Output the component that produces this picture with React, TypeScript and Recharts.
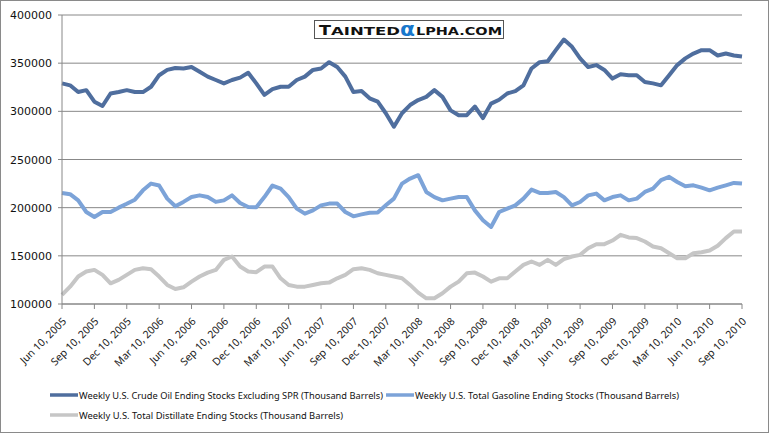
import React from 'react';
import { LineChart, Line, XAxis, YAxis, CartesianGrid, Legend } from 'recharts';

// quarterly tick labels (one every 13 weeks)
const QUARTER_LABELS = [
  'Jun 10, 2005', 'Sep 10, 2005', 'Dec 10, 2005', 'Mar 10, 2006', 'Jun 10, 2006', 'Sep 10, 2006',
  'Dec 10, 2006', 'Mar 10, 2007', 'Jun 10, 2007', 'Sep 10, 2007', 'Dec 10, 2007', 'Mar 10, 2008',
  'Jun 10, 2008', 'Sep 10, 2008', 'Dec 10, 2008', 'Mar 10, 2009', 'Jun 10, 2009', 'Sep 10, 2009',
  'Dec 10, 2009', 'Mar 10, 2010', 'Jun 10, 2010', 'Sep 10, 2010',
];
const STEPS_PER_QUARTER = 4;

// readings every quarter of a quarter (~3 weeks), thousand barrels
const CRUDE = [
  329000, 327000, 320000, 322000,
  310000, 305500, 318500, 320000,
  322000, 320000, 320000, 325500,
  337500, 343000, 345000, 344500,
  346000, 341000, 336000, 332500,
  329000, 332500, 335000, 340000,
  329000, 317000, 323000, 325500,
  325500, 332500, 336000, 343000,
  344500, 351000, 346000, 336000,
  320000, 321000, 313500, 310000,
  298000, 284000, 298000, 306500,
  311700, 315000, 322000, 315000,
  301000, 296000, 296000, 305000,
  293000, 308000, 312000, 318500,
  321000, 327000, 344500, 351000,
  352000, 363500, 374500, 367000,
  355000, 346000, 348000, 343000,
  334000, 338500, 337500, 337500,
  330500, 329000, 327000, 337500,
  348000, 355000, 360000, 363500,
  363500, 358000, 360000, 358000,
  357000,
];

const GASOLINE = [
  215300, 214000, 207600, 195500,
  190300, 195500, 195500, 200000,
  204000, 208300, 218000, 225000,
  223000, 209400, 201400, 206000,
  211000, 212800, 211000, 206000,
  207600, 212800, 204800, 200700,
  200400, 211000, 223000, 219800,
  211000, 199000, 193800, 197200,
  202400, 204200, 204200, 195500,
  191000, 193000, 194800, 195100,
  202400, 209400, 225000, 230200,
  233700, 216300, 211000, 207600,
  209400, 211000, 211000, 197200,
  187000, 180000, 195500, 199000,
  202400, 209400, 218700, 215300,
  215300, 216300, 211000, 202400,
  205900, 212800, 214600, 207600,
  211000, 212800, 207600, 209400,
  216300, 219800, 228500, 232000,
  226700, 222200, 223200, 220800,
  218000, 220800, 223200, 225700,
  225000,
];

const DISTILLATE = [
  109400, 118000, 128500, 133700,
  135400, 130200, 121500, 125000,
  130200, 135400, 137100, 136100,
  128500, 119800, 115600, 117300,
  123200, 128500, 132600, 135400,
  145800, 149300, 138900, 133700,
  133000, 138900, 138900, 126700,
  119800, 118000, 118000, 119800,
  121500, 122200, 126700, 130200,
  136100, 137100, 135400, 131900,
  130200, 128500, 126700, 119800,
  111800, 105900, 105900, 111100,
  118000, 123200, 131900, 132600,
  128500, 123200, 126700, 126700,
  133700, 140600, 144100, 140600,
  145800, 140600, 146500, 149300,
  151000, 157900, 162100, 162100,
  165900, 171800, 169100, 168400,
  164900, 159700, 157900, 152700,
  147500, 147500, 152700, 153800,
  155500, 160400, 168400, 175300,
  175300,
];

const Y_TICKS = [100000, 150000, 200000, 250000, 300000, 350000, 400000];

const SERIES = [
  { key: 'crude', name: 'Weekly U.S. Crude Oil Ending Stocks Excluding SPR  (Thousand Barrels)', color: '#4F6E9E' },
  { key: 'gasoline', name: 'Weekly U.S. Total Gasoline Ending Stocks  (Thousand Barrels)', color: '#7CA3D8' },
  { key: 'distillate', name: 'Weekly U.S. Total Distillate Ending Stocks  (Thousand Barrels)', color: '#C6C6C6' },
];

const data = CRUDE.map((v, i) => ({
  step: i,
  crude: v,
  gasoline: GASOLINE[i],
  distillate: DISTILLATE[i],
}));

const X_TICKS = QUARTER_LABELS.map((_, i) => i * STEPS_PER_QUARTER);

const XTick = ({ x, payload }: any) => {
  const label = QUARTER_LABELS[Math.round(payload.value / STEPS_PER_QUARTER)];
  const ex = x + 5;
  const ey = 322;
  return (
    <text x={ex} y={ey} transform={`rotate(-45, ${ex}, ${ey})`} textAnchor="end"
      fontSize={10.5} fontFamily="'Noto Sans', sans-serif" fill="#222">
      {label}
    </text>
  );
};

const YTick = ({ y, payload }: any) => (
  <text x={52} y={y + 4} textAnchor="end" fontSize={11} fontFamily="'DejaVu Sans', sans-serif" fill="#111">
    {payload.value}
  </text>
);

// legend laid out like the original: two rows, swatch + label
const LegendBox = () => {
  const items = [
    { s: SERIES[0], x: 50, y: 12, w: 304 },
    { s: SERIES[1], x: 386, y: 12, w: 264 },
    { s: SERIES[2], x: 50, y: 32, w: 264 },
  ];
  return (
    <svg width={769} height={50} style={{ display: 'block' }}>
      {items.map(({ s, x, y, w }) => (
        <g key={s.key}>
          <line x1={x} x2={x + 28} y1={y} y2={y} stroke={s.color} strokeWidth={3.5} />
          <text x={x + 29} y={y + 3.5} fontSize={8.8} fontFamily="'Noto Sans', sans-serif" fill="#111"
            textLength={w} lengthAdjust="spacingAndGlyphs">
            {s.name}
          </text>
        </g>
      ))}
    </svg>
  );
};

const Watermark = () => (
  <svg width={194} height={23} style={{ position: 'absolute', left: 312, top: 18 }}>
    <rect x={2.5} y={2.5} width={189} height={18} fill="#fff" stroke="#555" />
    <g fontFamily="'DejaVu Sans', sans-serif" fontWeight="bold" fill="#111">
      <text x={7} y={17} fontSize={14} textLength={12} lengthAdjust="spacingAndGlyphs">T</text>
      <text x={19} y={17} fontSize={11} textLength={69} lengthAdjust="spacingAndGlyphs">AINTED</text>
      <text x={88} y={17.5} fontSize={19} fill="#1877CC" textLength={15} lengthAdjust="spacingAndGlyphs">α</text>
      <text x={104} y={17} fontSize={11} textLength={86} lengthAdjust="spacingAndGlyphs">LPHA.COM</text>
    </g>
  </svg>
);

export default function App() {
  return (
    <div style={{ position: 'absolute', left: 0, top: 0, width: 769, height: 433, background: '#fff' }}>
      <LineChart width={769} height={433} data={data} margin={{ top: 15, right: 27, bottom: 0, left: 0 }}>
        <CartesianGrid vertical={false} stroke="#888" strokeWidth={1} />
        <XAxis
          dataKey="step"
          type="number"
          domain={[0, (QUARTER_LABELS.length - 1) * STEPS_PER_QUARTER]}
          ticks={X_TICKS}
          interval={0}
          tick={<XTick />}
          tickSize={5}
          height={79}
          stroke="#888"
        />
        <YAxis
          domain={[100000, 400000]}
          ticks={Y_TICKS}
          interval={0}
          tick={<YTick />}
          tickSize={4}
          width={62}
          stroke="#888"
        />
        <Legend verticalAlign="bottom" height={50} content={() => <LegendBox />} wrapperStyle={{ left: 0, bottom: 0 }} />
        {SERIES.map((s) => (
          <Line
            key={s.key}
            type="linear"
            dataKey={s.key}
            name={s.name}
            stroke={s.color}
            strokeWidth={4}
            strokeLinejoin="round"
            dot={false}
            isAnimationActive={false}
          />
        ))}
      </LineChart>
      <Watermark />
      <div style={{ position: 'absolute', inset: 0, border: '1px solid #8a8a8a', boxSizing: 'border-box', pointerEvents: 'none' }} />
    </div>
  );
}
